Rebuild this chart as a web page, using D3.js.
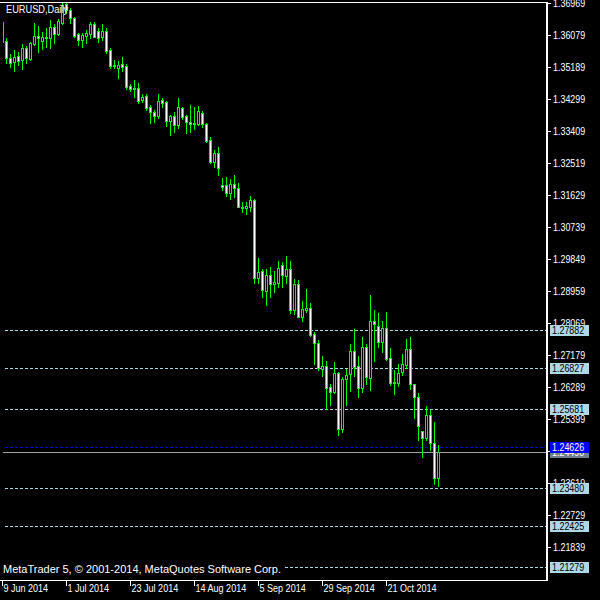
<!DOCTYPE html>
<html><head><meta charset="utf-8">
<script src="https://cdn.jsdelivr.net/npm/d3@7"></script>
<style>html,body{margin:0;padding:0;background:#000;} svg{display:block}</style>
</head><body><svg id="c" width="600" height="600"></svg>
<script>
// ---- data ----
const symbolTitle = "EURUSD,Daily";
const copyrightText = "MetaTrader 5, \u00A9 2001-2014, MetaQuotes Software Corp.";
const openPrices = [1.3644,1.3591,1.3545,1.3534,1.3549,1.3538,1.3573,1.3541,1.3583,1.3605,
1.3592,1.3603,1.3599,1.3629,1.3610,1.3640,1.3694,1.3677,1.3654,1.3610,
1.3594,1.3605,1.3610,1.3638,1.3620,1.3603,1.3619,1.3566,1.3524,1.3517,
1.3527,1.3522,1.3466,1.3459,1.3460,1.3427,1.3438,1.3407,1.3393,1.3383,
1.3427,1.3421,1.3370,1.3383,1.3358,1.3404,1.3383,1.3365,1.3364,1.3360,
1.3392,1.3360,1.3316,1.3255,1.3279,1.3191,1.3191,1.3168,1.3193,1.3182,
1.3130,1.3126,1.3130,1.3149,1.2933,1.2952,1.2897,1.2940,1.2915,1.2919,
1.2968,1.2938,1.2956,1.2843,1.2915,1.2824,1.2843,1.2848,1.2775,1.2750,
1.2678,1.2686,1.2628,1.2616,1.2667,1.2511,1.2650,1.2664,1.2729,1.2686,
1.2625,1.2739,1.2655,1.2813,1.2799,1.2753,1.2792,1.2709,1.2642,1.2641,
1.2671,1.2690,1.2734,1.2636,1.2602,1.2507,1.2488,1.2551,1.2472,1.2377];
const highPrices = [1.3647,1.3600,1.3555,1.3566,1.3561,1.3583,1.3577,1.3589,1.3642,1.3633,
1.3617,1.3627,1.3650,1.3638,1.3652,1.3696,1.3698,1.3682,1.3659,1.3613,
1.3613,1.3622,1.3645,1.3645,1.3627,1.3638,1.3627,1.3571,1.3538,1.3536,
1.3548,1.3527,1.3472,1.3483,1.3475,1.3443,1.3444,1.3412,1.3399,1.3444,
1.3432,1.3424,1.3385,1.3394,1.3434,1.3408,1.3385,1.3413,1.3408,1.3410,
1.3397,1.3364,1.3325,1.3288,1.3296,1.3209,1.3212,1.3207,1.3219,1.3195,
1.3143,1.3143,1.3160,1.3152,1.2987,1.2956,1.2957,1.2963,1.2952,1.2979,
1.2977,1.2994,1.2979,1.2928,1.2926,1.2868,1.2901,1.2862,1.2781,1.2760,
1.2715,1.2701,1.2637,1.2698,1.2671,1.2658,1.2678,1.2748,1.2789,1.2715,
1.2767,1.2749,1.2885,1.2843,1.2834,1.2813,1.2837,1.2737,1.2676,1.2693,
1.2721,1.2762,1.2767,1.2636,1.2611,1.2507,1.2576,1.2565,1.2531,1.2468];
const lowPrices = [1.3586,1.3531,1.3520,1.3509,1.3524,1.3512,1.3531,1.3538,1.3580,1.3561,
1.3568,1.3575,1.3573,1.3585,1.3607,1.3638,1.3668,1.3640,1.3603,1.3580,
1.3575,1.3585,1.3599,1.3601,1.3589,1.3594,1.3559,1.3517,1.3515,1.3489,
1.3508,1.3457,1.3453,1.3436,1.3418,1.3422,1.3399,1.3364,1.3367,1.3376,
1.3407,1.3355,1.3330,1.3339,1.3348,1.3373,1.3335,1.3339,1.3346,1.3358,
1.3351,1.3311,1.3253,1.3240,1.3219,1.3177,1.3160,1.3151,1.3157,1.3129,
1.3116,1.3109,1.3119,1.2917,1.2919,1.2878,1.2856,1.2880,1.2894,1.2906,
1.2906,1.2919,1.2834,1.2832,1.2823,1.2813,1.2838,1.2771,1.2693,1.2676,
1.2659,1.2567,1.2579,1.2611,1.2495,1.2503,1.2579,1.2618,1.2660,1.2602,
1.2616,1.2637,1.2621,1.2701,1.2741,1.2727,1.2704,1.2634,1.2609,1.2632,
1.2662,1.2683,1.2623,1.2544,1.2481,1.2435,1.2481,1.2454,1.2359,1.2354];
const closePrices = [1.3588,1.3543,1.3531,1.3548,1.3536,1.3571,1.3545,1.3585,1.3605,1.3599,
1.3603,1.3599,1.3631,1.3610,1.3647,1.3691,1.3677,1.3654,1.3606,1.3594,
1.3608,1.3613,1.3638,1.3603,1.3599,1.3619,1.3564,1.3523,1.3522,1.3524,
1.3520,1.3464,1.3458,1.3461,1.3425,1.3436,1.3406,1.3393,1.3383,1.3424,
1.3420,1.3370,1.3383,1.3358,1.3407,1.3379,1.3365,1.3361,1.3360,1.3397,
1.3359,1.3313,1.3255,1.3279,1.3237,1.3186,1.3168,1.3193,1.3182,1.3130,
1.3126,1.3133,1.3149,1.2933,1.2948,1.2898,1.2940,1.2915,1.2922,1.2961,
1.2940,1.2956,1.2842,1.2915,1.2824,1.2845,1.2848,1.2774,1.2750,1.2681,
1.2686,1.2627,1.2616,1.2667,1.2511,1.2650,1.2662,1.2729,1.2685,1.2625,
1.2739,1.2656,1.2813,1.2803,1.2755,1.2792,1.2707,1.2641,1.2639,1.2667,
1.2692,1.2734,1.2636,1.2602,1.2521,1.2488,1.2551,1.2472,1.2377,1.2449];
const dateLabels = ["9 Jun 2014","1 Jul 2014","23 Jul 2014","14 Aug 2014","5 Sep 2014","29 Sep 2014","21 Oct 2014"];
const dateLabelIndex = [0,16,32,48,64,80,96];
const priceTicks = [1.36969,1.36079,1.35189,1.34299,1.33409,1.32519,1.31629,1.30739,1.29849,
1.28959,1.28069,1.27179,1.26289,1.25399,1.24509,1.23619,1.22729,1.21839];
const priceMin = 1.20949, priceMax = 1.36969;
const levelLines = [1.27882,1.26827,1.25681,1.23480,1.22425,1.21279];
const markerLevel = 1.24626;

// ---- chart ----
const W = 600, H = 600;
const plot = {left: 3, top: 3, right: 546, bottom: 579};
const n = closePrices.length;
const svg = d3.select("#c");
const font = "'Liberation Sans',Arial,sans-serif";

// compress regular sans text horizontally to mimic the terminal's narrow font
function squeeze(sel, f) {
  sel.each(function () {
    const L = this.getComputedTextLength();
    this.setAttribute("textLength", (L * f).toFixed(1));
    this.setAttribute("lengthAdjust", "spacingAndGlyphs");
  });
}

const x = d3.scaleLinear().domain([0, n - 1]).range([2, 2 + 4 * (n - 1)]);
const y = d3.scaleLinear().domain([priceMin, priceMax]).range([plot.bottom, plot.top]);
const ry = v => Math.round(y(v));

svg.append("rect").attr("width", W).attr("height", H).attr("fill", "#000");

svg.append("defs").append("clipPath").attr("id", "clip")
  .append("rect").attr("x", plot.left).attr("y", plot.top)
  .attr("width", plot.right - plot.left).attr("height", plot.bottom - plot.top);

const g = svg.append("g").attr("clip-path", "url(#clip)");

// level lines
g.selectAll("line.lvl").data(levelLines).join("line").attr("class", "lvl")
  .attr("x1", 0).attr("x2", plot.right)
  .attr("y1", d => ry(d) + 0.5).attr("y2", d => ry(d) + 0.5)
  .attr("stroke", "#ADD8E6").attr("stroke-width", 1).attr("stroke-dasharray", "3,2");

// marker (blue) line
g.append("line").attr("x1", 0).attr("x2", plot.right)
  .attr("y1", ry(markerLevel) + 0.5).attr("y2", ry(markerLevel) + 0.5)
  .attr("stroke", "#0000E0").attr("stroke-width", 1).attr("stroke-dasharray", "3,2");

// last price (gray) line
const lastClose = closePrices[n - 1];
g.append("line").attr("x1", 0).attr("x2", plot.right)
  .attr("y1", ry(lastClose) + 0.5).attr("y2", ry(lastClose) + 0.5)
  .attr("stroke", "#A0A0A0").attr("stroke-width", 1);

// candles
const idx = d3.range(n);
const bodyTop = i => ry(Math.max(openPrices[i], closePrices[i]));
const bodyBot = i => ry(Math.min(openPrices[i], closePrices[i]));
const cg = g.append("g");
cg.selectAll("rect.wick").data(idx).join("rect").attr("class", "wick")
  .attr("x", i => x(i)).attr("width", 1)
  .attr("y", i => ry(highPrices[i]))
  .attr("height", i => ry(lowPrices[i]) - ry(highPrices[i]) + 1)
  .attr("fill", "#00FF00");
cg.selectAll("rect.body").data(idx).join("rect").attr("class", "body")
  .attr("x", i => x(i) - 1).attr("width", 3)
  .attr("y", bodyTop)
  .attr("height", i => bodyBot(i) - bodyTop(i) + 1)
  .attr("fill", "#00FF00");
cg.selectAll("rect.fill").data(idx.filter(i => bodyBot(i) - bodyTop(i) >= 2))
  .join("rect").attr("class", "fill")
  .attr("x", i => x(i)).attr("width", 1)
  .attr("y", i => bodyTop(i) + 1)
  .attr("height", i => bodyBot(i) - bodyTop(i) - 1)
  .attr("fill", i => closePrices[i] > openPrices[i] ? "#000000" : "#FFFFFF");

// frame
svg.append("line").attr("x1", 0).attr("x2", 548).attr("y1", 2.5).attr("y2", 2.5).attr("stroke", "#fff");
svg.append("rect").attr("x", 546).attr("y", 2).attr("width", 2).attr("height", 579).attr("fill", "#fff");
svg.append("line").attr("x1", 0).attr("x2", 548).attr("y1", 580.5).attr("y2", 580.5).attr("stroke", "#fff");

// price axis
const ya = svg.append("g").attr("transform", "translate(548,0)")
  .call(d3.axisRight(y).tickValues(priceTicks).tickSize(3).tickPadding(2).tickFormat(d3.format(".5f")));
ya.select(".domain").remove();
ya.selectAll("line").attr("stroke", "#fff");
ya.selectAll("text").attr("fill", "#fff").attr("font-family", font).attr("font-size", 11).call(squeeze, 0.81);

// label boxes
function labelBox(price, bg, fg, txt) {
  const yy = ry(price);
  const lg = svg.append("g");
  lg.append("rect").attr("x", 550).attr("y", yy - 5).attr("width", 39).attr("height", 11).attr("fill", bg);
  lg.append("text").attr("x", 552).attr("y", yy + 4).attr("fill", fg)
    .attr("font-family", font).attr("font-size", 11).text(txt).call(squeeze, 0.81);
}
levelLines.forEach(v => labelBox(v, "#ADD8E6", "#000", d3.format(".5f")(v)));
labelBox(lastClose, "#708090", "#fff", d3.format(".5f")(lastClose));
labelBox(markerLevel, "#0000FF", "#fff", d3.format(".5f")(markerLevel));

// date axis
const xa = svg.append("g").attr("transform", "translate(0,580)")
  .call(d3.axisBottom(x).tickValues(dateLabelIndex).tickSize(6)
    .tickFormat((d, i) => dateLabels[i]));
xa.select(".domain").remove();
xa.selectAll("line").attr("stroke", "#fff");
xa.selectAll("text").attr("fill", "#fff").attr("font-family", font).attr("font-size", 11)
  .attr("text-anchor", "start").attr("x", 1).attr("y", 4).attr("dy", "0.71em").call(squeeze, 0.82);

// title
svg.append("text").attr("x", 6).attr("y", 13).attr("fill", "#fff")
  .attr("font-family", font).attr("font-size", 11).text(symbolTitle).call(squeeze, 0.84);

// copyright
svg.append("rect").attr("x", 0).attr("y", 562).attr("width", 284).attr("height", 12).attr("fill", "#000");
svg.append("text").attr("x", 3).attr("y", 573).attr("fill", "#fff")
  .attr("font-family", font).attr("font-size", 11).text(copyrightText);
</script>
</body></html>
